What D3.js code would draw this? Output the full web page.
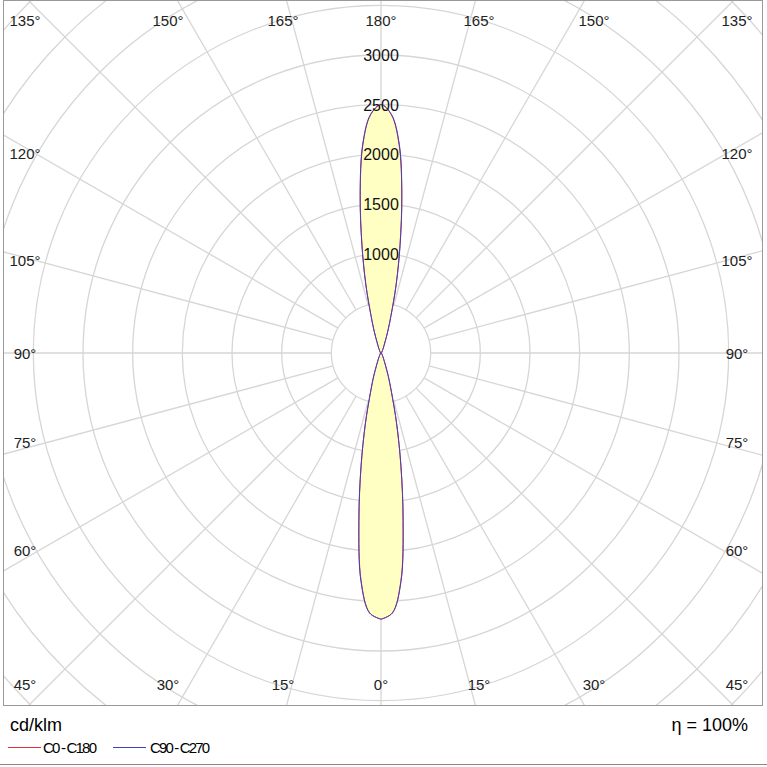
<!DOCTYPE html>
<html><head><meta charset="utf-8">
<script src="https://cdn.jsdelivr.net/npm/d3@7"></script>
<style>body{margin:0;background:#fff}text{font-family:Arial,"Liberation Sans",sans-serif}</style>
</head><body><svg id="c" width="767" height="767"></svg>
<script>
// gamma angles (deg, 0 = down) and intensities cd/klm
const gammas = [0,2.5,5,7.5,10,12.5,15,17.5,20,25,30,40,60,90,120,140,150,155,160,162.5,165,167.5,170,172.5,175,177.5,180];
const c0   = [2680,2620,2300,1700,1150,720,400,240,130,55,28,15,8,0,8,15,28,55,120,220,380,700,1100,1600,2100,2400,2500];
const c90  = [2680,2620,2310,1710,1160,730,410,245,130,55,28,15,8,0,8,15,28,55,120,225,390,710,1110,1610,2110,2405,2500];
const ringValues = [1000,1500,2000,2500,3000];
const angleLabels = [0,15,30,45,60,75,90,105,120,135,150,165,180];

const svg = d3.select("#c");
const cx = 381, cy = 353;
const r = d3.scaleLinear().domain([0,3000]).range([0,298]);
const W = 767, H = 705;
svg.append("clipPath").attr("id","clip").append("rect").attr("x",3).attr("y",1).attr("width",760).attr("height",H-1);
const g = svg.append("g").attr("clip-path","url(#clip)");
const grid = "#d6d6d6";
d3.range(500, 8001, 500).forEach(v => {
  g.append("circle").attr("cx",cx).attr("cy",cy).attr("r",r(v)).attr("fill","none").attr("stroke",grid).attr("stroke-width",1.3);
});
d3.range(0,360,15).forEach(a => {
  const t = a*Math.PI/180;
  g.append("line").attr("x1",cx+r(500)*Math.sin(t)).attr("y1",cy+r(500)*Math.cos(t))
   .attr("x2",cx+r(9000)*Math.sin(t)).attr("y2",cy+r(9000)*Math.cos(t)).attr("stroke",grid).attr("stroke-width",1.3);
});
function pts(vals){
  const right = gammas.map((gm,i)=>[Math.PI - gm*Math.PI/180, r(vals[i])]);
  const left = gammas.slice().reverse().map((gm,j)=>{const i=gammas.length-1-j;return [Math.PI + gm*Math.PI/180, r(vals[i])];});
  return right.concat(left.slice(1));
}
const line = d3.lineRadial().curve(d3.curveCatmullRomClosed.alpha(0.5));
const cg = g.append("g").attr("transform",`translate(${cx},${cy})`);
cg.append("path").attr("d",line(pts(c0))).attr("fill","#ffffc4").attr("stroke","none");
cg.append("path").attr("d",line(pts(c0))).attr("fill","none").attr("stroke","#e0303a").attr("stroke-width",1);
cg.append("path").attr("d",line(pts(c90))).attr("fill","none").attr("stroke","#4040c0").attr("stroke-width",1);
ringValues.forEach(v => {
  g.append("text").attr("x",cx).attr("y",cy-r(v)+6).attr("text-anchor","middle").attr("font-size",16).attr("fill","#111").text(v);
});
const lab = svg.append("g").attr("font-size",15).attr("fill","#222");
const pos = {0:[381,690],15:[283,690],30:[168,690],45:[25,690],60:[25,556],75:[25,448],90:[25,359],105:[25,266],120:[25,159],135:[25,26],150:[168,26],165:[283,26],180:[381,26]};
angleLabels.forEach(a => {
  const [x,y]=pos[a];
  lab.append("text").attr("x",x).attr("y",y).attr("text-anchor","middle").text(a+"°");
  if (a!==0 && a!==180) lab.append("text").attr("x",2*cx-x).attr("y",y).attr("text-anchor","middle").text(a+"°");
});
svg.append("rect").attr("x",3.5).attr("y",0.5).attr("width",759).attr("height",H).attr("fill","none").attr("stroke","#999");
svg.append("line").attr("x1",0).attr("x2",767).attr("y1",764.5).attr("y2",764.5).attr("stroke","#888");
svg.append("text").attr("x",10).attr("y",731).attr("font-size",18).text("cd/klm");
svg.append("text").attr("x",748).attr("y",731).attr("font-size",18).attr("text-anchor","end").text("η = 100%");
svg.append("line").attr("x1",8).attr("x2",41).attr("y1",747.5).attr("y2",747.5).attr("stroke","#e0303a");
svg.append("text").attr("x",43).attr("y",753).attr("font-size",15).attr("textLength",54).text("C0 - C180");
svg.append("line").attr("x1",113).attr("x2",146).attr("y1",747.5).attr("y2",747.5).attr("stroke","#4040c0");
svg.append("text").attr("x",150).attr("y",753).attr("font-size",15).attr("textLength",60).text("C90 - C270");
</script></body></html>
